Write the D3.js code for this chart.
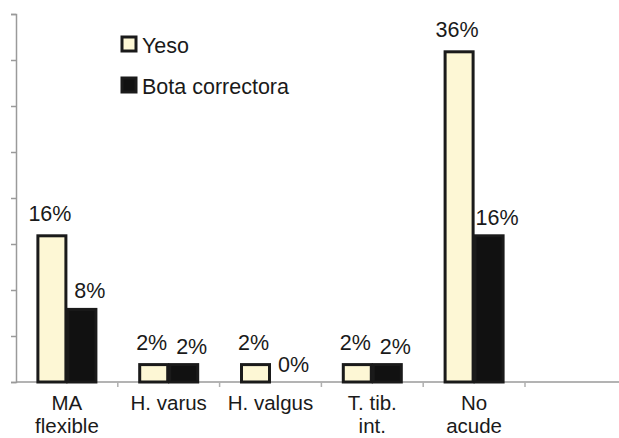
<!DOCTYPE html>
<html>
<head>
<meta charset="utf-8">
<script src="https://cdn.jsdelivr.net/npm/d3@7"></script>
<style>
  body { margin: 0; background: #fff; }
  svg { display: block; font-family: "Liberation Sans", Arial, sans-serif; }
</style>
</head>
<body>
<div id="chart"></div>
<script>
const categories = ["MA flexible", "H. varus", "H. valgus", "T. tib. int.", "No acude"];
const categoryLines = [["MA", "flexible"], ["H. varus"], ["H. valgus"], ["T. tib.", "int."], ["No", "acude"]];
const seriesNames = ["Yeso", "Bota correctora"];
const yesoValues = [16, 2, 2, 2, 36];
const botaValues = [8, 2, 0, 2, 16];
const yTicks = [0, 5, 10, 15, 20, 25, 30, 35, 40];

const width = 619, height = 438;
const colors = { "Yeso": "#fdf7d5", "Bota correctora": "#111111" };
const fontSize = "21.5px";

const svg = d3.select("#chart").append("svg")
    .attr("width", width)
    .attr("height", height);

const x0 = d3.scaleBand()
    .domain(categories)
    .range([16, 525])
    .padding(0);

const x1 = d3.scaleBand()
    .domain(seriesNames)
    .range([x0.bandwidth() / 2 - 30, x0.bandwidth() / 2 + 30])
    .padding(0);

const y = d3.scaleLinear()
    .domain([0, 40])
    .range([382, 14]);

// y axis, ticks only
const yAxis = svg.append("g")
    .attr("transform", "translate(16,0)")
    .call(d3.axisLeft(y).tickValues(yTicks).tickSize(5).tickFormat(""));
yAxis.select(".domain").attr("stroke", "#9a9a9a").attr("stroke-width", 1.5);
yAxis.selectAll(".tick line").attr("stroke", "#9a9a9a").attr("stroke-width", 1.5);

// x axis line with ticks at band boundaries
svg.append("line")
    .attr("x1", 16).attr("x2", width)
    .attr("y1", y(0)).attr("y2", y(0))
    .attr("stroke", "#9a9a9a").attr("stroke-width", 1.5);

svg.selectAll(".xtick")
    .data(categories)
    .enter()
    .append("line")
    .attr("class", "xtick")
    .attr("x1", d => x0(d) + x0.bandwidth())
    .attr("x2", d => x0(d) + x0.bandwidth())
    .attr("y1", y(0))
    .attr("y2", y(0) + 5)
    .attr("stroke", "#b0b0b0").attr("stroke-width", 1.5);

const rows = categories.map((c, i) => ({
    cat: c,
    lines: categoryLines[i],
    values: [
        { key: "Yeso", value: yesoValues[i] },
        { key: "Bota correctora", value: botaValues[i] }
    ]
}));

const groups = svg.selectAll(".group")
    .data(rows)
    .enter()
    .append("g")
    .attr("class", "group")
    .attr("transform", d => `translate(${x0(d.cat)},0)`);

groups.selectAll("rect")
    .data(d => d.values.filter(v => v.value > 0))
    .enter()
    .append("rect")
    .attr("x", d => x1(d.key) + 1)
    .attr("y", d => y(d.value) + 1)
    .attr("width", x1.bandwidth() - 2)
    .attr("height", d => y(0) - y(d.value) - 1)
    .attr("fill", d => colors[d.key])
    .attr("stroke", "#1a1a1a")
    .attr("stroke-width", 3);

groups.selectAll(".val")
    .data(d => d.values)
    .enter()
    .append("text")
    .attr("class", "val")
    .attr("x", d => x1(d.key) + x1.bandwidth() / 2 + (d.key === "Yeso" ? -2 : 8))
    .attr("y", d => y(d.value) - (d.key === "Yeso" ? 14 : 10))
    .attr("text-anchor", "middle")
    .style("font-size", fontSize)
    .style("fill", "#1a1a1a")
    .text(d => d.value + "%");

// category labels
const labels = groups.append("text")
    .attr("x", x0.bandwidth() / 2)
    .attr("y", 410)
    .attr("text-anchor", "middle")
    .style("font-size", "20.5px")
    .style("fill", "#1a1a1a");

labels.selectAll("tspan")
    .data(d => d.lines)
    .enter()
    .append("tspan")
    .attr("x", x0.bandwidth() / 2)
    .attr("dy", (d, i) => i === 0 ? 0 : 23)
    .text(d => d);

// legend
const legend = svg.selectAll(".legend")
    .data(seriesNames)
    .enter()
    .append("g")
    .attr("class", "legend")
    .attr("transform", (d, i) => `translate(122,${37 + i * 41})`);

legend.append("rect")
    .attr("width", 14)
    .attr("height", 14)
    .attr("fill", d => colors[d])
    .attr("stroke", "#1a1a1a")
    .attr("stroke-width", 3);

legend.append("text")
    .attr("x", 20)
    .attr("y", 16)
    .style("font-size", fontSize)
    .style("fill", "#1a1a1a")
    .text(d => d);
</script>
</body>
</html>
